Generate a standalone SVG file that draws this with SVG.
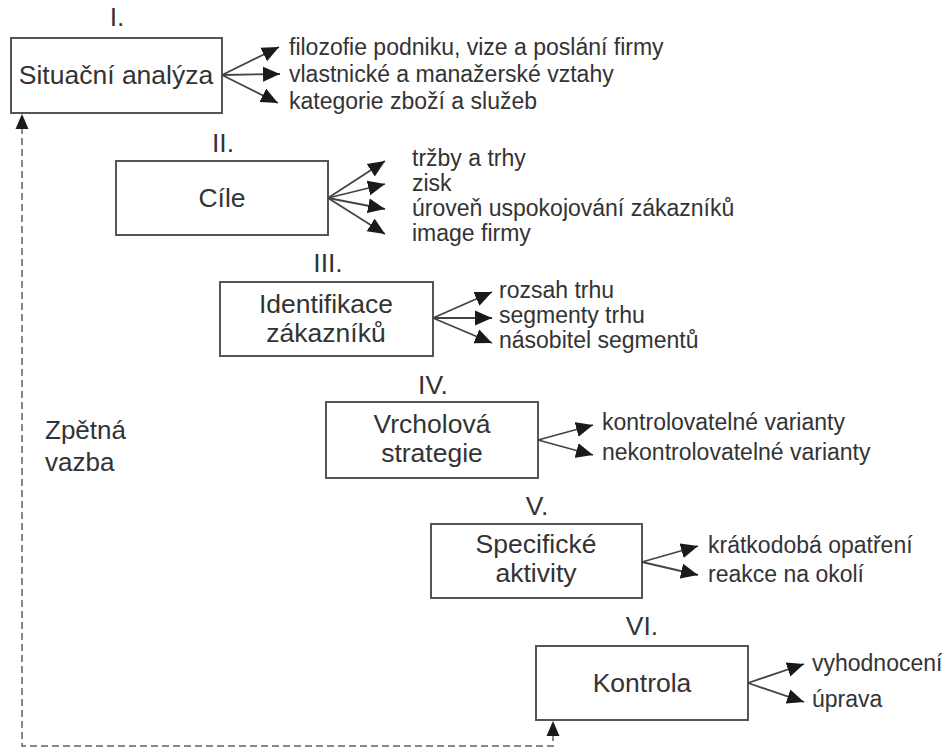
<svg xmlns="http://www.w3.org/2000/svg" width="951" height="751" viewBox="0 0 951 751">
<style>
.box{fill:#fff;stroke:#555;stroke-width:2}
.t{font-family:"Liberation Sans",Arial,sans-serif;fill:#333}
.big{font-size:26.5px;text-anchor:middle}
.small{font-size:23px}
.fan{fill:none;stroke:#444;stroke-width:1.8;marker-end:url(#ah)}
.fb{fill:none;stroke:#888;stroke-width:2;stroke-dasharray:7,4}
</style>
<defs>
<marker id="ah" markerUnits="userSpaceOnUse" markerWidth="18" markerHeight="16" refX="17" refY="8" orient="auto">
<path d="M0,0.5 L17,8 L0,15.5 Z" fill="#1a1a1a"/>
</marker>
</defs>

<g id="node1">
<text class="t big" x="117" y="26">I.</text>
<rect class="box" x="11" y="38" width="211" height="75"/>
<text class="t big" x="116" y="84">Situační analýza</text>
<text class="t small" x="289" y="55">filozofie podniku, vize a poslání firmy</text>
<text class="t small" x="289" y="82">vlastnické a manažerské vztahy</text>
<text class="t small" x="289" y="109">kategorie zboží a služeb</text>
</g>

<g id="node2">
<text class="t big" x="223" y="152">II.</text>
<rect class="box" x="116" y="161" width="212" height="74"/>
<text class="t big" x="222" y="207">Cíle</text>
<text class="t small" x="412" y="166">tržby a trhy</text>
<text class="t small" x="412" y="191">zisk</text>
<text class="t small" x="412" y="216">úroveň uspokojování zákazníků</text>
<text class="t small" x="412" y="241">image firmy</text>
</g>

<g id="node3">
<text class="t big" x="328" y="272">III.</text>
<rect class="box" x="220" y="282" width="213" height="74"/>
<text class="t big" x="326" y="313">Identifikace</text>
<text class="t big" x="326" y="342">zákazníků</text>
<text class="t small" x="499" y="298">rozsah trhu</text>
<text class="t small" x="499" y="323">segmenty trhu</text>
<text class="t small" x="499" y="348">násobitel segmentů</text>
</g>

<g id="node4">
<text class="t big" x="433" y="394">IV.</text>
<rect class="box" x="326" y="402" width="212" height="76"/>
<text class="t big" x="432" y="433">Vrcholová</text>
<text class="t big" x="432" y="462">strategie</text>
<text class="t small" x="602" y="430">kontrolovatelné varianty</text>
<text class="t small" x="602" y="460">nekontrolovatelné varianty</text>
</g>

<g id="node5">
<text class="t big" x="537" y="515">V.</text>
<rect class="box" x="431" y="524" width="211" height="74"/>
<text class="t big" x="536" y="553">Specifické</text>
<text class="t big" x="536" y="582">aktivity</text>
<text class="t small" x="708" y="553">krátkodobá opatření</text>
<text class="t small" x="708" y="582">reakce na okolí</text>
</g>

<g id="node6">
<text class="t big" x="642" y="635">VI.</text>
<rect class="box" x="536" y="646" width="212" height="74"/>
<text class="t big" x="642" y="692">Kontrola</text>
<text class="t small" x="812" y="671">vyhodnocení</text>
<text class="t small" x="812" y="707">úprava</text>
</g>

<g id="feedback-label">
<text class="t" style="font-size:26px" x="45" y="439">Zpětná</text>
<text class="t" style="font-size:26px" x="45" y="471">vazba</text>
</g>

<g id="connectors">
<path class="fan" d="M222,75 L279,47"/>
<path class="fan" d="M222,75 L280,74"/>
<path class="fan" d="M222,75 L278,103"/>

<path class="fan" d="M328,198 L385,161"/>
<path class="fan" d="M328,198 L385,184"/>
<path class="fan" d="M328,198 L385,209"/>
<path class="fan" d="M328,198 L385,234"/>

<path class="fan" d="M433,318 L492,292"/>
<path class="fan" d="M433,318 L492,318"/>
<path class="fan" d="M433,318 L492,343"/>

<path class="fan" d="M538,440 L593,425"/>
<path class="fan" d="M538,440 L593,455"/>

<path class="fan" d="M642,562 L698,546"/>
<path class="fan" d="M642,562 L698,575"/>

<path class="fan" d="M748,683 L804,664"/>
<path class="fan" d="M748,683 L804,702"/>

<path class="fb" d="M553,734 L553,746 L22,746 L22,128"/>
<path d="M15.5,129 L22,114 L28.5,129 Z" fill="#1a1a1a"/>
<path d="M546.5,736 L553,721 L559.5,736 Z" fill="#1a1a1a"/>
</g>
</svg>
